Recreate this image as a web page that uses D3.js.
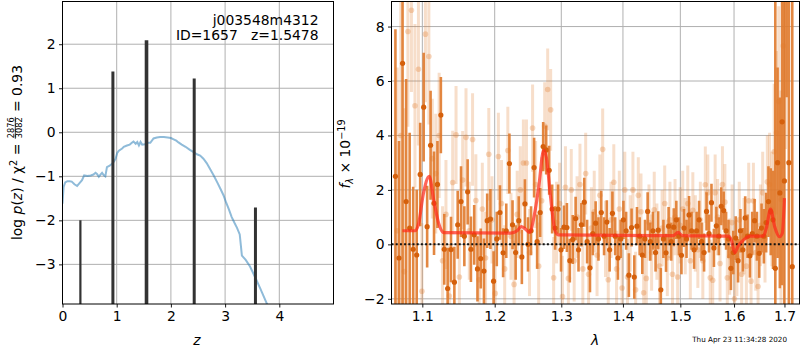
<!DOCTYPE html>
<html><head><meta charset="utf-8">
<script src="https://cdn.jsdelivr.net/npm/d3@7"></script>
<style>body{margin:0;background:#fff} text{font-family:"DejaVu Sans",sans-serif}</style>
</head><body><svg id="c" width="800" height="350"></svg>
<script>
// ---------- tick labels ----------
const zTicks = [0, 1, 2, 3, 4];
const logpTicks = [-3, -2, -1, 0, 1, 2];
const waveTicks = [1.1, 1.2, 1.3, 1.4, 1.5, 1.6, 1.7];
const fluxTicks = [-2, 0, 2, 4, 6, 8];

// ---------- left panel: p(z) ----------
const pzZ = [0.0,0.02,0.05,0.09,0.13,0.17,0.22,0.27,0.31,0.36,0.40,0.46,0.52,0.57,0.61,0.64,0.67,0.70,0.73,0.76,0.79,0.82,0.87,0.92,0.95,0.98,1.01,1.04,1.10,1.13,1.19,1.24,1.28,1.31,1.35,1.38,1.41,1.44,1.47,1.52,1.58,1.62,1.68,1.74,1.80,1.87,1.94,2.00,2.05,2.10,2.14,2.20,2.27,2.35,2.42,2.48,2.54,2.60,2.66,2.72,2.79,2.86,2.92,2.97,3.02,3.07,3.12,3.17,3.22,3.27,3.31,3.38,3.46,3.55,3.65,3.72,3.78];
const pzLogP = [-1.62,-1.24,-1.14,-1.11,-1.11,-1.12,-1.18,-1.22,-1.16,-1.09,-0.98,-0.99,-0.98,-0.96,-0.92,-0.95,-1.01,-0.96,-0.92,-0.97,-1.0,-0.79,-0.76,-0.71,-0.66,-0.60,-0.47,-0.42,-0.37,-0.33,-0.30,-0.28,-0.24,-0.21,-0.26,-0.22,-0.30,-0.22,-0.28,-0.27,-0.24,-0.24,-0.14,-0.12,-0.11,-0.11,-0.12,-0.13,-0.16,-0.19,-0.23,-0.28,-0.33,-0.40,-0.45,-0.50,-0.53,-0.60,-0.70,-0.83,-0.98,-1.15,-1.30,-1.43,-1.60,-1.75,-1.92,-2.05,-2.17,-2.32,-2.80,-2.90,-3.05,-3.28,-3.55,-3.75,-3.92];
const peakZ = [0.33, 0.93, 1.55, 2.43, 3.56];
const peakLogP = [-2.0, 1.38, 2.09, 1.22, -1.71];
const objName = "j003548m4312";
const objInfo = "ID=1657\u00a0\u00a0\u00a0z=1.5478";

// ---------- right panel: spectrum ----------
const modelWave = [1.074,1.0908,1.095,1.1014,1.1092,1.1152,1.1221,1.129,1.2228,1.2328,1.2388,1.2453,1.2513,1.2588,1.2652,1.2727,1.2768,1.2828,1.2903,1.2952,1.4871,1.4958,1.5038,1.5888,1.5951,1.6014,1.6079,1.6178,1.631,1.6572,1.6639,1.6718,1.6803,1.6901,1.6955,1.70];
const modelFlux = [0.5,0.5,0.75,1.86,2.5,1.62,0.75,0.43,0.41,0.5,0.65,0.56,0.44,1.11,2.1,3.45,3.2,1.86,0.5,0.35,0.32,0.44,0.32,0.3,0.14,-0.31,-0.06,0.15,0.3,0.3,0.64,1.3,0.64,0.28,0.4,1.7];

const darkWave = [1.0650,1.0696,1.0742,1.0788,1.0834,1.0880,1.0926,1.0972,1.1018,1.1064,
1.1110,1.1156,1.1202,1.1248,1.1294,1.1340,1.1386,1.1432,1.1478,1.1524,
1.1570,1.1616,1.1662,1.1708,1.1754,1.1800,1.1846,1.1892,1.1938,1.1984,
1.2030,1.2076,1.2122,1.2168,1.2214,1.2260,1.2306,1.2352,1.2398,1.2444,
1.2490,1.2536,1.2582,1.2628,1.2674,1.2720,1.2766,1.2812,1.2858,1.2904,
1.2950,1.2996,1.3042,1.3088,1.3134,1.3180,1.3226,1.3272,1.3318,1.3364,
1.3410,1.3456,1.3502,1.3548,1.3594,1.3640,1.3686,1.3732,1.3778,1.3824,
1.3870,1.3916,1.3962,1.4008,1.4054,1.4100,1.4146,1.4192,1.4238,1.4284,
1.4330,1.4376,1.4422,1.4468,1.4514,1.4560,1.4606,1.4652,1.4698,1.4744,
1.4790,1.4836,1.4882,1.4928,1.4974,1.5020,1.5066,1.5112,1.5158,1.5204,
1.5250,1.5296,1.5342,1.5388,1.5434,1.5480,1.5526,1.5572,1.5618,1.5664,
1.5710,1.5756,1.5802,1.5848,1.5894,1.5940,1.5986,1.6032,1.6078,1.6124,
1.6170,1.6216,1.6262,1.6308,1.6354,1.6400,1.6446,1.6492,1.6538,1.6584,
1.6630,1.6676,1.6722,1.6768,1.6814,1.6860,1.6906,1.6952,1.6998,1.7044,
1.7090,1.7160];
const darkFlux = [2.5,-0.5,6.65,1.57,0.6,-0.18,-0.39,2.57,5.04,0.65,
3.64,1.51,2.2,4.75,-0.18,-1.62,-0.19,-1.39,0.72,1.57,
0.30,1.93,-0.18,0.35,-0.90,-0.52,-0.98,0.87,0.93,-1.35,
0.2,1.17,-0.31,0.5,2.97,0.72,-0.3,0.87,-0.46,1.49,
0.0,0.5,2.82,0.1,1.17,3.59,3.47,2.72,1.3,0.6,
1.3,-0.2,0.63,0.62,-0.6,0.18,0.95,-0.2,0.72,1.55,
0.1,-0.86,0.4,0.78,0.2,1.17,0.3,0.82,-0.2,1.14,
0.3,-0.5,0.2,0.9,0.5,-1.13,0.62,-1.2,0.67,0.3,
-0.39,0.2,1.21,0.1,0.5,-0.3,0.52,-1.67,0.2,-0.31,
0.67,0.1,0.63,0.9,0.3,-0.4,0.6,0.2,1.08,0.5,
-0.2,0.5,0.9,0.1,-0.3,1.21,0.4,1.53,-0.13,0.68,
0.3,1.4,1.24,0.5,0.2,-0.88,-0.3,0.23,-0.6,0.5,
-0.2,0.97,0.3,-0.42,0.4,0.87,0.3,-0.33,0.6,0.3,
0.8,1.57,1.2,0.9,-0.88,3.0,1.89,4.5,2.33,10.0,
3.0,-0.82];
const darkErr = [5.4,4.3,9.0,4.5,3.5,2.3,2.4,1.9,2.0,1.5,
2.0,1.9,1.6,1.4,1.3,1.5,1.2,1.3,1.25,1.3,
1.1,1.2,1.2,1.1,1.2,1.1,1.2,1.0,1.1,1.1,
1.0,1.0,0.9,1.0,1.1,0.9,1.0,0.9,1.0,0.9,
1.0,0.9,1.1,1.0,0.9,0.9,0.9,0.9,0.9,0.8,
0.9,0.8,0.8,0.9,0.8,0.9,0.8,0.8,0.8,0.9,
0.8,0.9,0.8,0.8,0.8,0.8,0.7,0.8,0.8,0.8,
0.7,0.8,0.7,0.7,0.7,0.8,0.7,0.8,0.7,0.7,
0.7,0.7,0.7,0.7,0.7,0.7,0.7,0.8,0.7,0.7,
0.7,0.7,0.7,0.7,0.7,0.7,0.7,0.7,0.7,0.7,
0.7,0.7,0.7,0.7,0.7,0.7,0.7,0.7,0.7,0.7,
0.7,0.7,0.7,0.7,0.7,0.8,0.8,0.8,0.8,0.8,
0.8,0.8,0.8,0.8,0.8,0.8,0.9,0.9,0.9,1.0,
1.1,1.3,1.6,1.8,10.0,3.5,3.5,6.0,7.0,4.6,
9.0,12.0];

const lightWave = [1.0673,1.0719,1.0765,1.0811,1.0857,1.0903,1.0949,1.0995,1.1041,1.1087,
1.1133,1.1179,1.1225,1.1271,1.1317,1.1363,1.1409,1.1455,1.1501,1.1547,
1.1593,1.1639,1.1685,1.1731,1.1777,1.1823,1.1869,1.1915,1.1961,1.2007,
1.2053,1.2099,1.2145,1.2191,1.2237,1.2283,1.2329,1.2375,1.2421,1.2467,
1.2513,1.2559,1.2605,1.2651,1.2697,1.2743,1.2789,1.2835,1.2881,1.2927,
1.2973,1.3019,1.3065,1.3111,1.3157,1.3203,1.3249,1.3295,1.3341,1.3387,
1.3433,1.3479,1.3525,1.3571,1.3617,1.3663,1.3709,1.3755,1.3801,1.3847,
1.3893,1.3939,1.3985,1.4031,1.4077,1.4123,1.4169,1.4215,1.4261,1.4307,
1.4353,1.4399,1.4445,1.4491,1.4537,1.4583,1.4629,1.4675,1.4721,1.4767,
1.4813,1.4859,1.4905,1.4951,1.4997,1.5043,1.5089,1.5135,1.5181,1.5227,
1.5273,1.5319,1.5365,1.5411,1.5457,1.5503,1.5549,1.5595,1.5641,1.5687,
1.5733,1.5779,1.5825,1.5871,1.5917,1.5963,1.6009,1.6055,1.6101,1.6147,
1.6193,1.6239,1.6285,1.6331,1.6377,1.6423,1.6469,1.6515,1.6561,1.6607,
1.6653,1.6699,1.6745,1.6791,1.6837,1.6883,1.6929,1.6975,1.7021];
const lightFlux = [0.5,4.0,-1.0,7.82,8.6,5.09,6.43,-1.72,7.72,6.9,
3.15,2.6,4.0,-0.6,1.1,-1.9,2.27,4.02,-1.2,2.36,
3.93,0.5,3.85,1.61,-1.3,1.3,-0.5,3.31,0.9,-1.8,
3.23,1.5,-0.9,3.45,0.3,-1.47,1.1,2.0,2.99,2.99,
-0.3,4.27,2.2,-0.8,1.6,4.35,5.69,4.94,-1.23,0.8,
1.5,-1.92,2.1,-1.25,2.0,-0.6,1.0,2.2,-0.9,2.6,
-1.1,0.6,1.2,-0.4,1.8,3.49,0.2,-1.3,0.9,2.28,
-0.9,1.3,-1.6,2.0,-1.2,0.4,2.0,-1.67,1.8,1.2,
-1.78,-1.25,0.8,-0.3,1.27,0.1,-0.8,0.6,1.5,-0.5,
0.9,-1.1,1.0,-1.2,0.7,1.3,0.3,1.5,-0.6,1.25,
0.4,-0.2,0.9,-0.6,2.19,1.9,-1.23,-1.32,1.9,1.0,
-0.7,2.2,1.55,-1.23,-0.45,0.8,-2.0,-0.5,0.9,-1.1,
0.3,-0.8,1.6,-1.35,1.6,-0.3,-1.55,0.7,1.9,0.2,
2.3,2.2,1.3,3.4,4.1,5.25,1.65,7.29,9.5];
const lightErr = [6.0,7.0,6.0,3.5,3.0,3.0,2.8,2.5,2.5,2.5,
2.2,2.2,2.3,2.0,2.0,1.9,1.9,1.8,1.8,1.8,
1.8,1.8,1.7,1.7,1.7,1.7,1.7,1.7,1.6,1.6,
1.6,1.6,1.6,1.6,1.6,1.6,1.6,1.6,1.6,1.6,
1.6,1.6,1.6,1.6,1.6,1.6,1.5,1.5,1.5,1.5,
1.5,1.5,1.5,1.5,1.5,1.5,1.5,1.5,1.5,1.5,
1.5,1.5,1.5,1.5,1.5,1.5,1.4,1.4,1.4,1.4,
1.4,1.4,1.4,1.4,1.4,1.4,1.4,1.4,1.4,1.4,
1.4,1.4,1.4,1.4,1.4,1.4,1.4,1.4,1.4,1.4,
1.4,1.4,1.4,1.4,1.4,1.4,1.4,1.4,1.4,1.4,
1.4,1.4,1.4,1.4,1.4,1.4,1.4,1.4,1.4,1.4,
1.4,1.4,1.4,1.4,1.4,1.4,1.4,1.4,1.4,1.4,
1.4,1.4,1.4,1.4,1.4,1.4,1.4,1.5,1.5,1.6,
1.7,1.9,2.1,2.5,3.0,3.5,4.0,4.5,6.0];
const timeStamp = "Thu Apr 23 11:34:28 2020";

// ---------- drawing ----------
const svg = d3.select("#c");
const FS = 13.9;
const grid = "#b0b0b0";

const L = {x0: 62.5, x1: 333.5, y0: 1.5, y1: 304};
const xL = d3.scaleLinear().domain([0, 5]).range([L.x0, L.x1]);
const yL = d3.scaleLinear().domain([-3.9, 2.97]).range([L.y1, L.y0]);
const R = {x0: 391.5, x1: 799.5, y0: 1.5, y1: 304};
const xR = d3.scaleLog().domain([1.06, 1.731]).range([R.x0, R.x1]);
const yR = d3.scaleLinear().domain([-2.19, 8.92]).range([R.y1, R.y0]);

const defs = svg.append("defs");
defs.append("clipPath").attr("id", "clipL").append("rect")
  .attr("x", L.x0).attr("y", L.y0).attr("width", L.x1 - L.x0).attr("height", L.y1 - L.y0);
defs.append("clipPath").attr("id", "clipR").append("rect")
  .attr("x", R.x0).attr("y", R.y0).attr("width", R.x1 - R.x0).attr("height", R.y1 - R.y0);

function drawGrid(B, xs, ys, xt, yt) {
  const g = svg.append("g");
  g.selectAll(".gx").data(xt).join("line")
    .attr("x1", d => xs(d)).attr("x2", d => xs(d)).attr("y1", B.y0).attr("y2", B.y1)
    .attr("stroke", grid).attr("stroke-width", 1);
  g.selectAll(".gy").data(yt).join("line")
    .attr("y1", d => ys(d)).attr("y2", d => ys(d)).attr("x1", B.x0).attr("x2", B.x1)
    .attr("stroke", grid).attr("stroke-width", 1);
}
drawGrid(L, xL, yL, zTicks, logpTicks);
drawGrid(R, xR, yR, waveTicks, fluxTicks);

// ---- left content
const gL = svg.append("g").attr("clip-path", "url(#clipL)");
gL.append("path")
  .datum(pzZ.map((z, i) => [z, pzLogP[i]]))
  .attr("d", d3.line().x(d => xL(d[0])).y(d => yL(d[1])))
  .attr("fill", "none").attr("stroke", "#1f77b4").attr("stroke-opacity", 0.5).attr("stroke-width", 2);
gL.selectAll(".pk").data(peakZ.map((z, i) => [z, peakLogP[i]])).join("line")
  .attr("x1", d => xL(d[0])).attr("x2", d => xL(d[0]))
  .attr("y1", yL(-3.9)).attr("y2", d => yL(d[1]))
  .attr("stroke", "#333").attr("stroke-width", (d, i) => i === 0 ? 2.2 : (i === 2 ? 3.6 : 3));

// ---- right content
const gR = svg.append("g").attr("clip-path", "url(#clipR)");
const light = lightWave.map((w, i) => ({w, f: lightFlux[i], e: lightErr[i]}));
const dark = darkWave.map((w, i) => ({w, f: darkFlux[i], e: darkErr[i]}));
const orange = "#e07a2c";
gR.selectAll(".lb").data(light).join("line")
  .attr("x1", d => xR(d.w)).attr("x2", d => xR(d.w))
  .attr("y1", d => yR(d.f - d.e)).attr("y2", d => yR(d.f + d.e))
  .attr("stroke", orange).attr("stroke-opacity", 0.25).attr("stroke-width", 3);
gR.selectAll(".lp").data(light).join("circle")
  .attr("cx", d => xR(d.w)).attr("cy", d => yR(d.f)).attr("r", 2.8)
  .attr("fill", orange).attr("fill-opacity", 0.3);
gR.selectAll(".db").data(dark).join("line")
  .attr("x1", d => xR(d.w)).attr("x2", d => xR(d.w))
  .attr("y1", d => yR(d.f - d.e)).attr("y2", d => yR(d.f + d.e))
  .attr("stroke", orange).attr("stroke-opacity", 0.9).attr("stroke-width", 2.6);
gR.selectAll(".dp").data(dark).join("circle")
  .attr("cx", d => xR(d.w)).attr("cy", d => yR(d.f)).attr("r", 2.6)
  .attr("fill", "#d5600c");
gR.append("line")
  .attr("x1", R.x0).attr("x2", R.x1).attr("y1", yR(0)).attr("y2", yR(0))
  .attr("stroke", "#111").attr("stroke-width", 2).attr("stroke-dasharray", "2,2.2");
gR.append("path")
  .datum(modelWave.map((w, i) => [w, modelFlux[i]]))
  .attr("d", d3.line().curve(d3.curveMonotoneX).x(d => xR(d[0])).y(d => yR(d[1])))
  .attr("fill", "none").attr("stroke", "#ff2a1a").attr("stroke-opacity", 0.72).attr("stroke-width", 3.2);

// ---- frames & axes
function frame(B) {
  svg.append("rect").attr("x", B.x0).attr("y", B.y0).attr("width", B.x1 - B.x0).attr("height", B.y1 - B.y0)
    .attr("fill", "none").attr("stroke", "#000").attr("stroke-width", 1);
}
frame(L); frame(R);

function styleAxis(g) {
  g.select(".domain").remove();
  g.selectAll(".tick line").attr("stroke", "#000").attr("stroke-width", 0.9);
  g.selectAll(".tick text").attr("font-size", FS).attr("fill", "#000").attr("font-family", "DejaVu Sans");
}
svg.append("g").attr("transform", `translate(0,${L.y1})`)
  .call(d3.axisBottom(xL).tickValues(zTicks).tickSize(3.5).tickPadding(3.5).tickFormat(d3.format("d"))).call(styleAxis);
svg.append("g").attr("transform", `translate(${L.x0},0)`)
  .call(d3.axisLeft(yL).tickValues(logpTicks).tickSize(3.5).tickPadding(3.5).tickFormat(d3.format("d"))).call(styleAxis);
svg.append("g").attr("transform", `translate(0,${R.y1})`)
  .call(d3.axisBottom(xR).tickValues(waveTicks).tickSize(3.5).tickPadding(3.5).tickFormat(d3.format(".1f"))).call(styleAxis);
svg.append("g").attr("transform", `translate(${R.x0},0)`)
  .call(d3.axisLeft(yR).tickValues(fluxTicks).tickSize(3.5).tickPadding(3.5).tickFormat(d3.format("d"))).call(styleAxis);

// ---- texts
svg.append("text").attr("x", 318.5).attr("y", 24.5).attr("text-anchor", "end").attr("font-size", FS).text(objName);
svg.append("text").attr("x", 318.5).attr("y", 39.5).attr("text-anchor", "end").attr("font-size", FS).text(objInfo);

svg.append("text").attr("x", 197).attr("y", 345).attr("text-anchor", "middle").attr("font-size", FS)
  .attr("font-style", "italic").text("z");
svg.append("text").attr("x", 595).attr("y", 345).attr("text-anchor", "middle").attr("font-size", FS)
  .attr("font-style", "italic").text("λ");
svg.append("text").attr("x", 787).attr("y", 342).attr("text-anchor", "end").attr("font-size", 7.2).text(timeStamp);

// left y label with a stacked fraction
(function () {
  const g = svg.append("g");
  const t1 = g.append("text").attr("font-size", FS).attr("x", 0).attr("y", 0);
  t1.append("tspan").text("log\u00a0");
  t1.append("tspan").attr("font-style", "italic").text("p");
  t1.append("tspan").text("(");
  t1.append("tspan").attr("font-style", "italic").text("z");
  t1.append("tspan").text(")\u00a0/\u00a0χ");
  t1.append("tspan").attr("font-size", 9.7).attr("dy", -5).text("2");
  t1.append("tspan").attr("dy", 5).text("\u00a0=\u00a0");
  const w1 = t1.node().getComputedTextLength();
  const fs2 = 8.2;
  const num = g.append("text").attr("font-size", fs2).attr("y", -7.5).text("2876");
  const den = g.append("text").attr("font-size", fs2).attr("y", 0).text("3082");
  const wf = Math.max(num.node().getComputedTextLength(), den.node().getComputedTextLength());
  num.attr("x", w1 + 1);
  den.attr("x", w1 + 1);
  g.append("line").attr("x1", w1 + 0.5).attr("x2", w1 + wf + 1.5).attr("y1", -6.2).attr("y2", -6.2)
    .attr("stroke", "#000").attr("stroke-width", 0.8);
  const t3 = g.append("text").attr("font-size", FS).attr("x", w1 + wf + 2).attr("y", 0).text("\u00a0=\u00a00.93");
  const total = w1 + wf + 2 + t3.node().getComputedTextLength();
  g.attr("transform", `translate(21.5,${152.5 + total / 2}) rotate(-90)`);
})();

// right y label
(function () {
  const t = svg.append("text").attr("font-size", FS).attr("text-anchor", "middle")
    .attr("transform", "translate(350,154) rotate(-90)");
  t.append("tspan").attr("font-style", "italic").text("f");
  t.append("tspan").attr("font-size", 9.7).attr("font-style", "italic").attr("dy", 3).text("λ");
  t.append("tspan").attr("dy", -3).text("\u00a0×\u00a010");
  t.append("tspan").attr("font-size", 9.7).attr("dy", -5.5).text("−19");
})();
</script></body></html>
